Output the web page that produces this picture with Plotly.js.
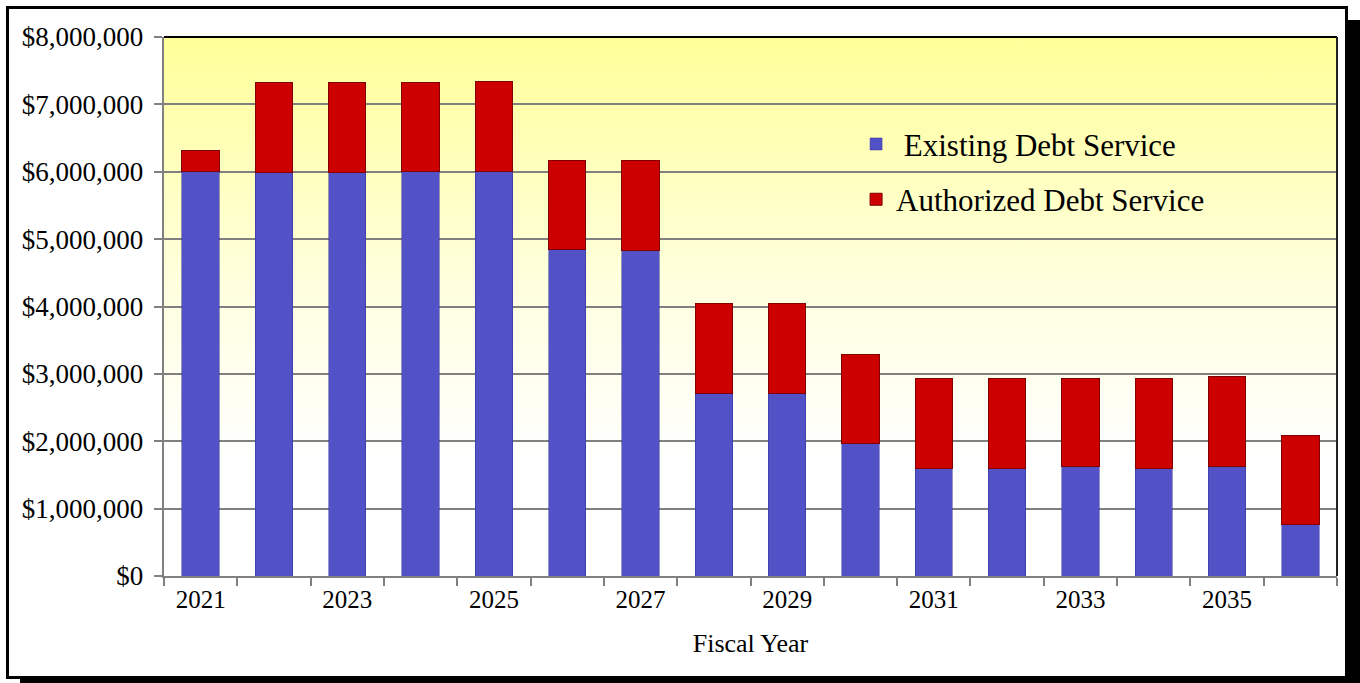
<!DOCTYPE html>
<html><head><meta charset="utf-8">
<script src="https://cdn.plot.ly/plotly-3.0.1.min.js"></script>
<style>
html,body{margin:0;padding:0;width:1360px;height:683px;overflow:hidden;background:#fff;}
#frame{position:absolute;left:6px;top:6px;width:1336px;height:667px;border:3px solid #000;box-shadow:14px 14px 0 #000;background:#fff;}
#chart{position:absolute;left:0;top:0;width:1360px;height:683px;}
</style></head><body>
<div id="frame"></div><div id="chart"></div>
<script>
const years = [2021,2022,2023,2024,2025,2026,2027,2028,2029,2030,2031,2032,2033,2034,2035,2036];
const existingDebt = [6000000,5990000,5990000,6010000,6010000,4840000,4830000,2710000,2710000,1960000,1600000,1600000,1620000,1600000,1620000,760000];
const authorizedDebt = [310000,1340000,1340000,1320000,1330000,1330000,1330000,1340000,1340000,1330000,1330000,1330000,1310000,1330000,1340000,1330000];
const labelYears = [2021,2023,2025,2027,2029,2031,2033,2035];
const seriesNames = ['\u00a0Existing Debt Service','Authorized Debt Service'];

const FONT = 'Liberation Serif, serif';
const grad = "<svg xmlns='http://www.w3.org/2000/svg' width='100' height='100' preserveAspectRatio='none'><defs><linearGradient id='g' x1='0' y1='0' x2='0' y2='1'><stop offset='0' stop-color='#FFFF99'/><stop offset='0.45' stop-color='#FFFFDD'/><stop offset='0.78' stop-color='#FFFFFF'/><stop offset='1' stop-color='#FFFFFF'/></linearGradient></defs><rect width='100' height='100' fill='url(#g)'/></svg>";

const traces = [
  {type:'bar', x:years, y:existingDebt, name:seriesNames[0], legendgroup:'a', width:0.51,
   marker:{color:'#5252C6', line:{color:'#2E2E96', width:0.5}}},
  {type:'bar', x:years, y:authorizedDebt, name:seriesNames[1], legendgroup:'b', width:0.51,
   marker:{color:'#CC0000', line:{color:'#800000', width:1}}}
];

const layout = {
  width:1360, height:683,
  margin:{l:164, r:23, t:37, b:107},
  paper_bgcolor:'rgba(0,0,0,0)', plot_bgcolor:'rgba(0,0,0,0)',
  barmode:'stack',
  font:{family:FONT, color:'#000', size:23},
  xaxis:{type:'linear', range:[2020.5,2036.5], tickvals:labelYears, ticktext:labelYears.map(String),
    ticks:'', showgrid:false, zeroline:false, showline:true, linecolor:'#808080', linewidth:2,
    tickfont:{size:25, family:FONT, color:'#000'}, automargin:true,
    minor:{ticks:'outside', tick0:2020.5, dtick:1, ticklen:8, tickwidth:2, tickcolor:'#808080', showgrid:false},
    title:{text:'Fiscal Year', font:{size:26, family:FONT, color:'#000'}, standoff:22}},
  yaxis:{range:[0,8000000], dtick:1000000, tickformat:'$,.0f', ticksuffix:'\u2009', ticks:'outside', ticklen:8, tickwidth:2,
    tickcolor:'#808080', showgrid:true, gridcolor:'#808080', gridwidth:2, zeroline:false,
    showline:true, linecolor:'#808080', linewidth:2, tickfont:{size:27, family:FONT, color:'#000'}},
  legend:{x:0.59, y:0.851, xanchor:'left', yanchor:'top', bgcolor:'rgba(0,0,0,0)', traceorder:'grouped',
    tracegroupgap:12, font:{size:31, family:FONT, color:'#000'}},
  images:[{source:'data:image/svg+xml;charset=utf-8,'+encodeURIComponent(grad), xref:'paper', yref:'paper',
    x:0, y:1, sizex:1, sizey:1, sizing:'stretch', xanchor:'left', yanchor:'top', layer:'below'}],
  shapes:[
    {type:'line', xref:'paper', yref:'paper', x0:0, x1:1, y0:1, y1:1, line:{color:'#000', width:2}},
    {type:'line', xref:'paper', yref:'paper', x0:1, x1:1, y0:0, y1:1, line:{color:'#222', width:2}}
  ]
};
Plotly.newPlot('chart', traces, layout, {displayModeBar:false, staticPlot:true});
</script>
</body></html>
